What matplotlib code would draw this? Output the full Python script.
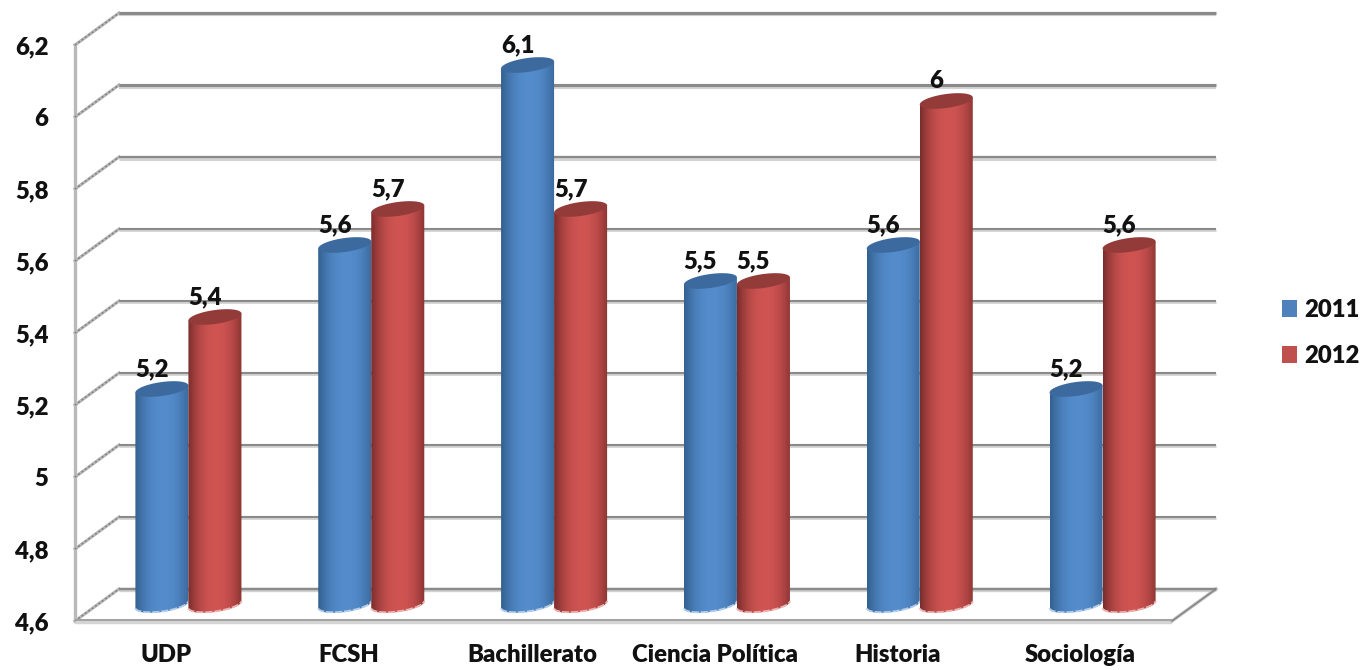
#!/usr/bin/env python3
import matplotlib
matplotlib.use('Agg')
import matplotlib.pyplot as plt
import matplotlib.transforms as mtrans
from matplotlib.patches import Patch, Polygon
import numpy as np

categories = ['UDP', 'FCSH', 'Bachillerato', 'Ciencia Política', 'Historia', 'Sociología']
values_2011 = [5.2, 5.6, 6.1, 5.5, 5.6, 5.2]
values_2012 = [5.4, 5.7, 5.7, 5.5, 6.0, 5.6]
y_ticks = [4.6, 4.8, 5.0, 5.2, 5.4, 5.6, 5.8, 6.0, 6.2]
y_tick_labels = ['4,6', '4,8', '5', '5,2', '5,4', '5,6', '5,8', '6', '6,2']
labels_2011 = ['5,2', '5,6', '6,1', '5,5', '5,6', '5,2']
labels_2012 = ['5,4', '5,7', '5,7', '5,5', '6', '5,6']

grid_widths = [2.4, 2.0, 2.0, 2.0, 2.0, 2.0, 2.2, 3.0, 3.0]

BAR_W = 0.29
FONT = ['Lato', 'DejaVu Sans']
FS = 17.2
WEIGHT = 'heavy'
DEPTH_X, DEPTH_Y = 22, 16
# data labels sit up and to the left of the cylinder top
LABEL_DX, LABEL_DY = -10, 20

blue = {'edge': '#33608f', 'mid': '#548ccc', 'top': '#3c6a9e', 'foot': '#b4cdea'}
red = {'edge': '#7a2d2c', 'mid': '#cf5452', 'top': '#933b39', 'foot': '#eab4b2'}


def px_shift(fig, dx, dy):
    return mtrans.ScaledTranslation(dx / fig.dpi, dy / fig.dpi, fig.dpi_scale_trans)


def cylinder(ax, fig, cx, value, col, zorder):
    # pixel sizes turned into data units
    yu = 1.6 / ax.get_window_extent().height
    a = BAR_W / 2
    b = 7.0 * yu
    s = 3.5 * yu
    t = np.linspace(0, 2 * np.pi, 80)
    ex = a * np.cos(t)
    ey = b * np.sin(t) + s * np.cos(t)
    base = y_ticks[0]

    low = t >= np.pi
    low_x = ex[low] + cx
    low_y = ey[low] + base
    body = np.vstack([
        [[cx - a, value - s]],
        np.column_stack([low_x, low_y]),
        [[cx + a, value + s]],
    ])
    poly = Polygon(body, closed=True, fc='none', ec='none', transform=ax.transData)
    ax.add_patch(poly)

    u = np.linspace(-1, 1, 64)
    shade = np.clip(np.abs(u - 0.05) / 1.05, 0, 1) ** 2.2
    c0 = np.array(matplotlib.colors.to_rgb(col['mid']))
    c1 = np.array(matplotlib.colors.to_rgb(col['edge']))
    rgb = c0[None, :] * (1 - shade[:, None]) + c1[None, :] * shade[:, None]
    im = ax.imshow(rgb[None, :, :], extent=(cx - a, cx + a, base - 4 * b, value + 4 * b),
                   aspect='auto', interpolation='bilinear', zorder=zorder)
    im.set_clip_box(fig.bbox)
    im.set_clip_path(poly)

    ax.plot(low_x, low_y + 0.6 * yu, color=col['foot'], lw=1.3, ls=(0, (4, 1)),
            zorder=zorder + 0.1, clip_on=False)
    ax.fill(ex + cx, ey + value, color=col['top'], lw=0, zorder=zorder + 0.2, clip_on=False)


def main():
    fig = plt.figure(figsize=(13.61, 6.70), dpi=100)
    ax = fig.add_axes([97 / 1361, 1 - 605 / 670, 1097 / 1361, 576 / 670])
    ax.set_xlim(-0.5, 5.5)
    ax.set_ylim(4.6, 6.2)
    for sp in ax.spines.values():
        sp.set_visible(False)
    ax.patch.set_visible(False)

    back = ax.transData + px_shift(fig, DEPTH_X, DEPTH_Y)
    front = ax.transData + px_shift(fig, -DEPTH_X, -DEPTH_Y)
    dx = DEPTH_X / 1097 * 6
    dy = DEPTH_Y / 576 * 1.6

    # back wall grid and side wall diagonals
    for v, w in zip(y_ticks, grid_widths):
        ax.plot([-0.5, 5.5], [v, v], color='#d2d2d2', lw=w, transform=back + px_shift(fig, 0, -1.5),
                solid_capstyle='butt', clip_on=False, zorder=1)
        ax.plot([-0.5, 5.5], [v, v], color='#8a8a8a', lw=w * 0.75, transform=back,
                solid_capstyle='butt', clip_on=False, zorder=1.1)
        ax.plot([-0.5 - dx, -0.5 + dx], [v - dy, v + dy], color='#b4b4b4', lw=2.2,
                clip_on=False, zorder=1)
        ax.plot([-0.5 - dx, -0.5 + dx], [v - dy, v + dy], color='#7f7f7f', lw=1.2,
                ls=(0, (1, 1.5)), clip_on=False, zorder=1.1)

    # front edge, left post and the right floor edge
    ax.plot([-0.5, -0.5], [4.6, 6.2], color='#b9b9b9', lw=2.4, transform=front,
            clip_on=False, zorder=1)
    ax.plot([-0.5, 5.5], [4.6, 4.6], color='#d4d4d4', lw=3.2, transform=front + px_shift(fig, 0, -1),
            solid_capstyle='butt', clip_on=False, zorder=1)
    ax.plot([-0.5, 5.5], [4.6, 4.6], color='#a2a2a2', lw=1.4, transform=front + px_shift(fig, 0, 0.5),
            solid_capstyle='butt', clip_on=False, zorder=1.1)
    ax.plot([5.5 - dx, 5.5 + dx], [4.6 - dy, 4.6 + dy], color='#bcbcbc', lw=2.4,
            clip_on=False, zorder=1)
    ax.plot([5.5 - dx, 5.5 + dx], [4.6 - dy, 4.6 + dy], color='#808080', lw=0.9,
            clip_on=False, zorder=1.1)

    label_trans = ax.transData + px_shift(fig, LABEL_DX, LABEL_DY)
    x = np.arange(len(categories))
    for i in x:
        cx1 = i - BAR_W / 2
        cx2 = i + BAR_W / 2
        cylinder(ax, fig, cx1, values_2011[i], blue, 3 + i * 0.01)
        cylinder(ax, fig, cx2, values_2012[i], red, 4 + i * 0.01)
        ax.text(cx1, values_2011[i], labels_2011[i], ha='center', va='center',
                family=FONT, fontsize=FS, fontweight=WEIGHT, color='#111111', zorder=6,
                transform=label_trans)
        ax.text(cx2, values_2012[i], labels_2012[i], ha='center', va='center',
                family=FONT, fontsize=FS, fontweight=WEIGHT, color='#111111', zorder=6,
                transform=label_trans)

    ax.set_xlim(-0.5, 5.5)
    ax.set_ylim(4.6, 6.2)

    ax.set_xticks(x, categories)
    ax.set_yticks(y_ticks, y_tick_labels)
    ax.tick_params(axis='x', length=0, pad=28)
    ax.tick_params(axis='y', length=0, pad=35)
    for lab in ax.get_xticklabels():
        lab.set(family=FONT, fontsize=FS, fontweight=WEIGHT, color='#111111')
        lab.set_transform(lab.get_transform() + px_shift(fig, -DEPTH_X, 0))
    for lab in ax.get_yticklabels():
        lab.set(family=FONT, fontsize=FS, fontweight=WEIGHT, color='#111111')
        lab.set_transform(lab.get_transform() + px_shift(fig, 0, -DEPTH_Y))

    handles = [Patch(fc='#4f81bd', ec='none'), Patch(fc='#c0504d', ec='none')]
    fig.legend(handles, ['2011', '2012'], loc='center left',
               bbox_to_anchor=(1282 / 1361, 1 - 333 / 670), frameon=False,
               prop={'family': FONT, 'size': FS, 'weight': WEIGHT},
               labelspacing=1.0, handlelength=0.62, handleheight=0.75,
               handletextpad=0.3, borderpad=0, borderaxespad=0, labelcolor='#111111')

    fig.savefig('out.png', dpi=100)


if __name__ == '__main__':
    main()
